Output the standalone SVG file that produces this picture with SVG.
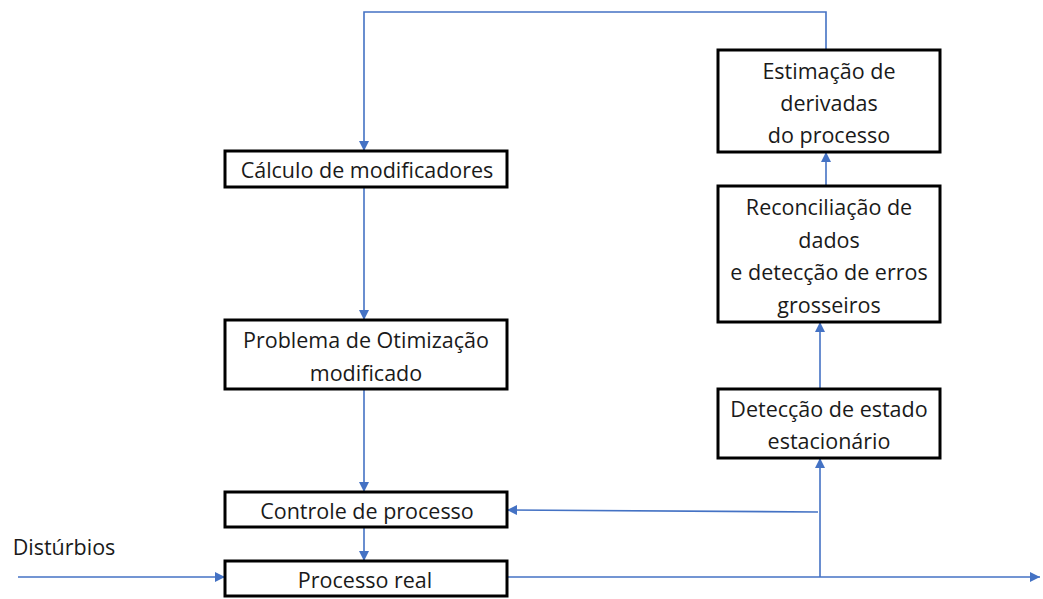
<svg xmlns="http://www.w3.org/2000/svg" width="1043" height="599" viewBox="0 0 1043 599">
  <style>
    .box { fill: #ffffff; stroke: #000000; stroke-width: 3; }
    .lbl { font-family: "Open Sans", "Noto Sans", sans-serif; font-size: 21.5px; fill: #1a1a1a; text-anchor: middle; dominant-baseline: central; }
    .wire { fill: none; stroke: #4472C4; stroke-width: 1.6; }
  </style>
  <defs>
    <marker id="arrow" viewBox="0 0 10 10" refX="10" refY="5" markerWidth="10" markerHeight="10" markerUnits="userSpaceOnUse" orient="auto">
      <path d="M0,0 L10,5 L0,10 Z" fill="#4472C4"/>
    </marker>
  </defs>

  <!-- connectors -->
  <g id="connectors">
    <polyline class="wire" points="826,50 826,12 364,12 364,151" marker-end="url(#arrow)"/>
    <line class="wire" x1="364" y1="187" x2="364" y2="320" marker-end="url(#arrow)"/>
    <line class="wire" x1="364" y1="389" x2="364" y2="492" marker-end="url(#arrow)"/>
    <line class="wire" x1="364" y1="527" x2="364" y2="561" marker-end="url(#arrow)"/>
    <line class="wire" x1="18" y1="577" x2="225" y2="577" marker-end="url(#arrow)"/>
    <line class="wire" x1="507" y1="577" x2="1040" y2="577" marker-end="url(#arrow)"/>
    <line class="wire" x1="820" y1="577" x2="820" y2="458" marker-end="url(#arrow)"/>
    <line class="wire" x1="818" y1="512" x2="507" y2="510" marker-end="url(#arrow)"/>
    <line class="wire" x1="820" y1="389" x2="820" y2="322" marker-end="url(#arrow)"/>
    <line class="wire" x1="826" y1="186" x2="826" y2="152" marker-end="url(#arrow)"/>
  </g>

  <g id="calculo">
    <rect class="box" x="225" y="151" width="282" height="36"/>
    <text class="lbl" x="367" y="169">Cálculo de modificadores</text>
  </g>

  <g id="problema">
    <rect class="box" x="225" y="320" width="282" height="69"/>
    <text class="lbl" x="366" y="339">Problema de Otimização</text>
    <text class="lbl" x="366" y="372">modificado</text>
  </g>

  <g id="controle">
    <rect class="box" x="225" y="492" width="282" height="35"/>
    <text class="lbl" x="367" y="510">Controle de processo</text>
  </g>

  <g id="processo">
    <rect class="box" x="225" y="561" width="282" height="35"/>
    <text class="lbl" x="365" y="579">Processo real</text>
  </g>

  <g id="disturbios">
    <text class="lbl" x="64" y="546">Distúrbios</text>
  </g>

  <g id="estimacao">
    <rect class="box" x="718" y="50" width="222" height="102"/>
    <text class="lbl" x="829" y="70">Estimação de</text>
    <text class="lbl" x="829" y="102">derivadas</text>
    <text class="lbl" x="829" y="134">do processo</text>
  </g>

  <g id="reconciliacao">
    <rect class="box" x="718" y="186" width="222" height="136"/>
    <text class="lbl" x="829" y="206">Reconciliação de</text>
    <text class="lbl" x="829" y="239">dados</text>
    <text class="lbl" x="829" y="271">e detecção de erros</text>
    <text class="lbl" x="829" y="304">grosseiros</text>
  </g>

  <g id="estacionario">
    <rect class="box" x="718" y="389" width="222" height="69"/>
    <text class="lbl" x="829" y="408">Detecção de estado</text>
    <text class="lbl" x="829" y="440">estacionário</text>
  </g>
</svg>
